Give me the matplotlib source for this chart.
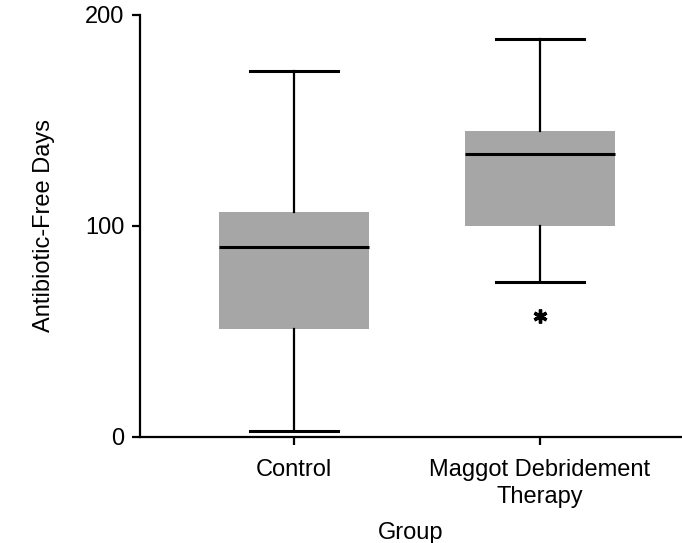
import matplotlib
matplotlib.use("Agg")
import matplotlib.pyplot as plt

plt.rcParams['font.family'] = ['Liberation Sans', 'DejaVu Sans']

# values
groups = ["Control", "Maggot Debridement\nTherapy"]
whislo = [2.8, 73.5]
q1 = [51.3, 100.1]
med = [89.9, 133.9]
q3 = [106.7, 145.1]
whishi = [173.4, 188.6]
outliers = [[], [57.4]]

stats = []
for i in range(len(groups)):
    stats.append(dict(label=groups[i], whislo=whislo[i], q1=q1[i], med=med[i],
                      q3=q3[i], whishi=whishi[i], fliers=outliers[i]))

fig = plt.figure(figsize=(6.82, 5.43), dpi=100)
ax = fig.add_axes([0.2053, 0.1958, 0.7947, 0.7766])

ax.bxp(stats, positions=[1, 2], widths=0.61, capwidths=0.36, patch_artist=True,
       boxprops=dict(facecolor='#a6a6a6', edgecolor='none', linewidth=0),
       medianprops=dict(color='black', linewidth=2.2),
       whiskerprops=dict(color='black', linewidth=1.6),
       capprops=dict(color='black', linewidth=2.2),
       flierprops=dict(marker=(6, 2, 0), markersize=10, markeredgewidth=2.4,
                       markeredgecolor='black', linestyle='none'))

ax.set_xlim(0.374, 2.577)
ax.set_ylim(0, 200)
ax.set_yticks([0, 100, 200])
ax.spines['top'].set_visible(False)
ax.spines['right'].set_visible(False)
for s in ['left', 'bottom']:
    ax.spines[s].set_linewidth(1.6)
ax.tick_params(width=1.6, length=6, labelsize=17)
ax.tick_params(axis='y', pad=5)
ax.tick_params(axis='x', pad=10)
for lab in ax.get_xticklabels():
    lab.set_linespacing(1.3)
ax.set_ylabel('Antibiotic-Free Days', fontsize=17, labelpad=22)
ax.set_xlabel('Group', fontsize=17, labelpad=10)

fig.savefig('out.png', dpi=100)
